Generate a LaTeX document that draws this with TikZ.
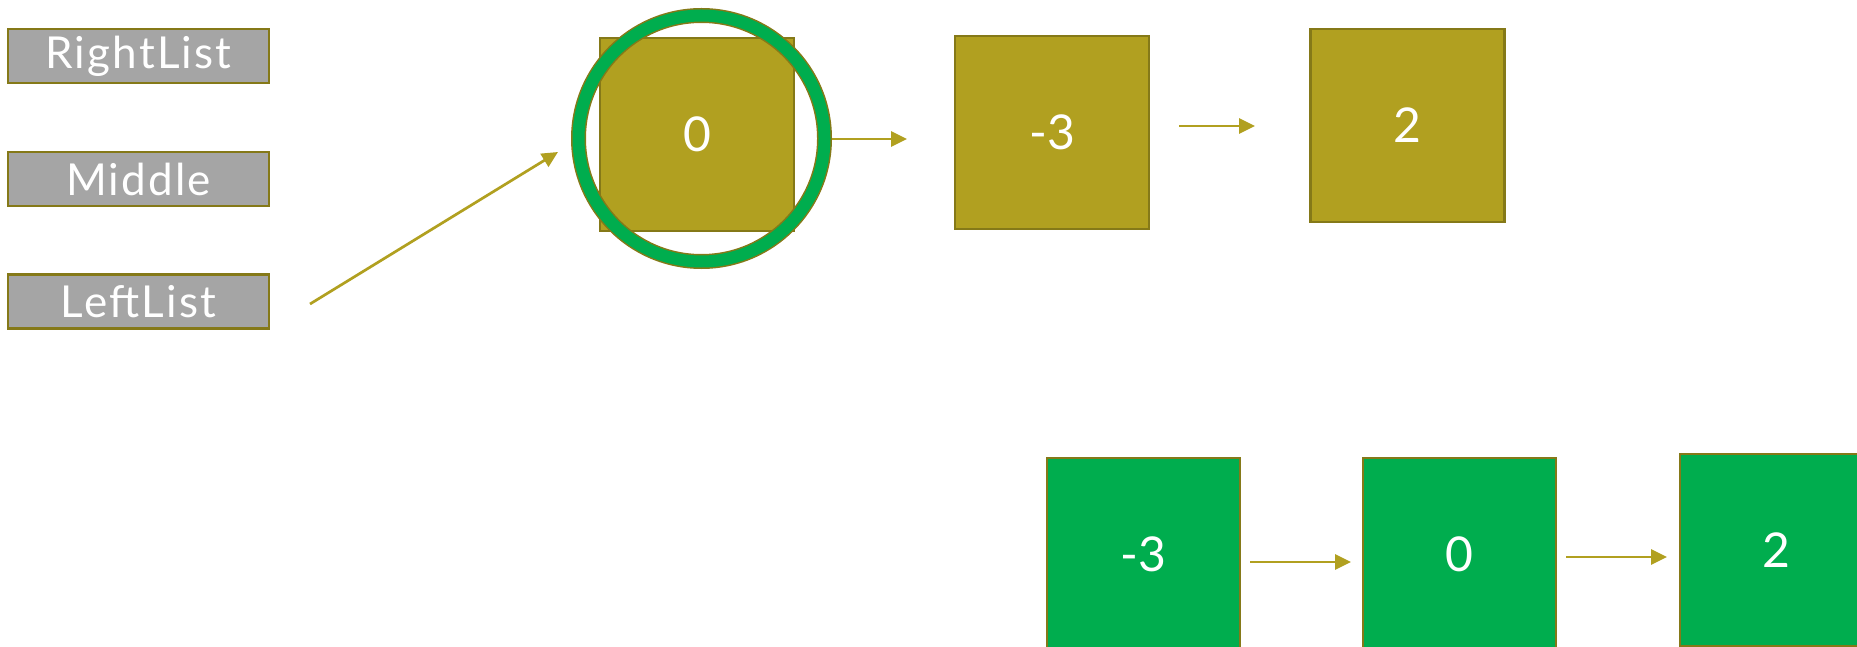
\documentclass[tikz,border=0pt]{standalone}
\usepackage{fontspec}
\setmainfont{Lato}
\newfontfamily\lblfont[LetterSpace=5]{Lato}
\usetikzlibrary{arrows.meta}
\definecolor{olivefill}{RGB}{177,160,32}
\definecolor{oliveedge}{RGB}{133,121,24}
\definecolor{labelgray}{RGB}{165,165,165}
\definecolor{nodegreen}{RGB}{0,173,78}
\tikzset{
  lbl/.style={rectangle, fill=labelgray, draw=oliveedge, line width=2.5pt,
    minimum width=261pt, minimum height=54pt, inner sep=0pt, text=white,
    font=\lblfont\fontsize{44}{50}\selectfont},
  topbox/.style={rectangle, fill=olivefill, draw=oliveedge, line width=2.5pt,
    minimum width=194pt, minimum height=193pt, inner sep=0pt, text=white,
    font=\fontsize{48}{56}\selectfont},
  botbox/.style={rectangle, fill=nodegreen, draw=oliveedge, line width=1.5pt,
    minimum width=193pt, minimum height=193pt, inner sep=0pt, text=white,
    font=\fontsize{48}{56}\selectfont},
  ring/.style={circle, draw=oliveedge, double=nodegreen, double distance=12pt,
    line width=1.5pt, minimum size=246pt, inner sep=0pt, outer sep=7.5pt},
  arr/.style={draw=olivefill, line width=2.7pt,
    -{Triangle[length=16pt,width=15pt]}}
}
\begin{document}
\begin{tikzpicture}[x=1pt,y=-1pt]
\useasboundingbox (0,0) rectangle (1857,647);
\clip (0,0) rectangle (1857,647);
% labels
\node[lbl] (rl) at (138.5,56) {RightList};
\node[lbl] (mid) at (138.5,179) {Middle};
\node[lbl] (ll) at (138.5,301.5) {LeftList};
% top list
\node[topbox] (t0) at (697,134.5) {0};
\node[topbox] (t1) at (1052,132.5) {-3};
\node[topbox] (t2) at (1407.5,125.5) {2};
\node[ring] (rg) at (701.5,138.5) {};
% free arrow ends
\coordinate (d1s) at (310,304);
\coordinate (d1e) at (558,152);
\coordinate (a1e) at (907,139);
\coordinate (a2s) at (1179,126);
\coordinate (a2e) at (1255,126);
\draw[arr] (d1s) -- (d1e);
\draw[arr] (rg.east |- a1e) -- (a1e);
\draw[arr] (a2s) -- (a2e);
% bottom list
\node[botbox] (b0) at (1143.5,554.5) {-3};
\node[botbox] (b1) at (1459.5,554.5) {0};
\node[botbox, minimum height=192pt] (b2) at (1776.5,550) {2};
\coordinate (b1s) at (1250,562);
\coordinate (b1e) at (1351,562);
\coordinate (b2s) at (1566,557);
\coordinate (b2e) at (1667,557);
\draw[arr] (b1s) -- (b1e);
\draw[arr] (b2s) -- (b2e);
\end{tikzpicture}
\end{document}
